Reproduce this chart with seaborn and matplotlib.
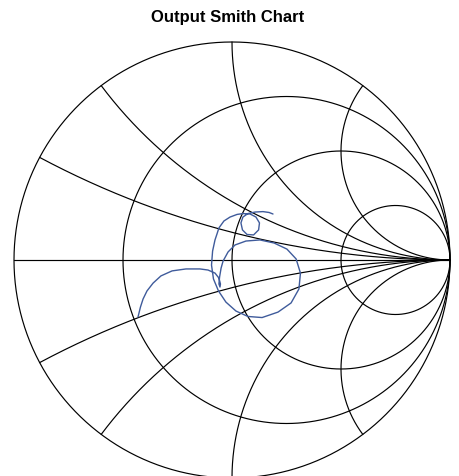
import numpy as np
import pandas as pd
import matplotlib
matplotlib.use("Agg")
import matplotlib.pyplot as plt
import seaborn as sns

# ---- chart data ----
title = "Output Smith Chart"
resistance_circles = [0.0, 1/3, 1.0, 3.0]
reactance_arcs = [0.25, 0.5, 1.0, 2.0, -0.25, -0.5, -1.0, -2.0]

gamma_re = [-0.431, -0.420, -0.408, -0.390, -0.362, -0.326, -0.275, -0.211, -0.147, -0.110,
            -0.078, -0.060, -0.053, -0.055, -0.060, -0.057, -0.050, -0.041, -0.018, 0.014,
            0.064, 0.128, 0.193, 0.252, 0.294, 0.314, 0.307, 0.271, 0.211, 0.138,
            0.073, 0.018, -0.028, -0.062, -0.085, -0.094, -0.089, -0.078, -0.069, -0.060,
            -0.037, -0.009, 0.023, 0.050, 0.083, 0.110, 0.126, 0.122, 0.099, 0.069,
            0.048, 0.041, 0.050, 0.073, 0.106, 0.142, 0.170, 0.188]
gamma_im = [-0.261, -0.216, -0.179, -0.142, -0.106, -0.073, -0.050, -0.041, -0.041, -0.046,
            -0.060, -0.083, -0.110, -0.124, -0.110, -0.078, -0.037, -0.005, 0.037, 0.069,
            0.087, 0.092, 0.078, 0.050, 0.005, -0.060, -0.133, -0.197, -0.239, -0.264,
            -0.259, -0.234, -0.193, -0.142, -0.087, -0.023, 0.041, 0.092, 0.119, 0.147,
            0.179, 0.197, 0.209, 0.213, 0.211, 0.197, 0.170, 0.138, 0.115, 0.117,
            0.138, 0.170, 0.197, 0.213, 0.220, 0.222, 0.218, 0.211]

sns.set_theme(style="white")
plt.rcParams['font.family'] = ['Liberation Sans', 'DejaVu Sans']

W, H = 459, 477
fig = plt.figure(figsize=(W / 100, H / 100), dpi=100)
cx, cy, R = 232, 261, 218
ax = fig.add_axes([(cx - R) / W, (H - (cy + R)) / H, 2 * R / W, 2 * R / H])
ax.set_xlim(-1, 1)
ax.set_ylim(-1, 1)
ax.set_aspect('equal')
ax.axis('off')

grid_kw = dict(color='black', lw=0.85, clip_on=False, zorder=1)

# resistance circles
th = np.linspace(0, 2 * np.pi, 721)
for r in resistance_circles:
    c = r / (1 + r)
    rad = 1 / (1 + r)
    ax.plot(c + rad * np.cos(th), rad * np.sin(th), **grid_kw)

# real axis
ax.plot([-1, 1], [0, 0], **grid_kw)

# reactance arcs
t = np.linspace(0, 0.9995, 800)
rr = t / (1 - t)
for xv in reactance_arcs:
    z = rr + 1j * xv
    g = (z - 1) / (z + 1)
    g = np.append(g, 1 + 0j)
    ax.plot(g.real, g.imag, **grid_kw)

# data trace
df = pd.DataFrame({"re": gamma_re, "im": gamma_im})
sns.lineplot(data=df, x="re", y="im", sort=False, estimator=None,
             color="#3F5B9B", lw=1.0, ax=ax, zorder=3)
ax.set_xlabel("")
ax.set_ylabel("")
ax.set_xlim(-1, 1)
ax.set_ylim(-1, 1)

fig.text(227.5 / W, 1 - 17.5 / H, title, ha='center', va='center',
         fontsize=12, fontweight='bold', color='black')

fig.savefig("out.png", dpi=100)
